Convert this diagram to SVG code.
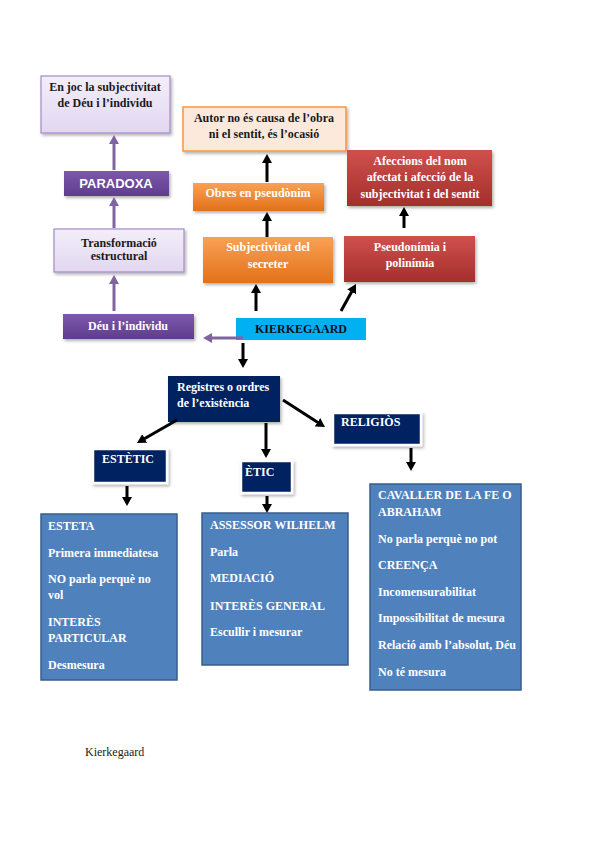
<svg xmlns="http://www.w3.org/2000/svg" width="599" height="848" viewBox="0 0 599 848">
<style>
.t{font-family:"Liberation Serif","Times New Roman",serif;font-size:12px;font-weight:bold;}
.w{fill:#ffffff;}
.k{fill:#1a1a1a;}
.c{text-anchor:middle;}
.blk{stroke:#000;stroke-width:3;fill:none;marker-end:url(#ab);}
.pur{stroke:#8064a2;stroke-width:3;fill:none;marker-end:url(#ap);}
.navy{fill:#002060;}
.nb{fill:#002060;stroke:#ffffff;stroke-width:2.5;}
.blue{fill:#4f81bd;stroke:#385d8a;stroke-width:1.5;}
</style>
<defs>
<marker id="ab" markerUnits="userSpaceOnUse" markerWidth="10" markerHeight="10" refX="1" refY="5" orient="auto" viewBox="0 0 10 10"><path d="M0,0 L9,5 L0,10 z" fill="#000"/></marker>
<marker id="ap" markerUnits="userSpaceOnUse" markerWidth="10" markerHeight="10" refX="1" refY="5" orient="auto" viewBox="0 0 10 10"><path d="M0,0 L9,5 L0,10 z" fill="#8064a2"/></marker>
<linearGradient id="gLav" x1="0" y1="0" x2="0" y2="1"><stop offset="0" stop-color="#f3eefa"/><stop offset="1" stop-color="#e2d7f0"/></linearGradient>
<linearGradient id="gPur" x1="0" y1="0" x2="0" y2="1"><stop offset="0" stop-color="#7d59ab"/><stop offset="1" stop-color="#5e3d8c"/></linearGradient>
<linearGradient id="gOr" x1="0" y1="0" x2="0" y2="1"><stop offset="0" stop-color="#f9a155"/><stop offset="1" stop-color="#e3711a"/></linearGradient>
<linearGradient id="gRed" x1="0" y1="0" x2="0" y2="1"><stop offset="0" stop-color="#d0504c"/><stop offset="1" stop-color="#a32f2c"/></linearGradient>
<filter id="sh" x="-10%" y="-10%" width="125%" height="130%"><feDropShadow dx="1.5" dy="2" stdDeviation="1.5" flood-color="#000" flood-opacity="0.3"/></filter>
</defs>

<g id="enjoc"><rect x="41" y="76" width="129" height="57" fill="url(#gLav)" stroke="#a48bc6" stroke-width="1.2" filter="url(#sh)"/><text class="t k c" x="105" y="91">En joc la subjectivitat</text><text class="t k c" x="105" y="107">de Déu i l’individu</text></g>
<g id="paradoxa"><rect x="64" y="171" width="105" height="25" fill="url(#gPur)" filter="url(#sh)"/><text x="116" y="188" text-anchor="middle" fill="#fff" font-family="'Liberation Sans',Arial,sans-serif" font-size="13" font-weight="bold">PARADOXA</text></g>
<g id="transformacio"><rect x="54" y="229" width="130" height="43" fill="url(#gLav)" stroke="#a48bc6" stroke-width="1.2" filter="url(#sh)"/><text class="t k c" x="119" y="247">Transformació</text><text class="t k c" x="119" y="260">estructural</text></g>
<g id="deu"><rect x="63" y="314" width="131" height="25" fill="url(#gPur)" filter="url(#sh)"/><text class="t w c" x="128" y="330">Déu i l’individu</text></g>
<g id="kierkegaard"><rect x="236" y="318" width="130" height="22" fill="#00b0f0"/><text class="t c" x="301" y="333" fill="#0a1020">KIERKEGAARD</text></g>

<g id="autor"><rect x="183" y="107" width="163" height="44" fill="#fde9dc" stroke="#f79646" stroke-width="1.5" filter="url(#sh)"/><text class="t k c" x="264" y="122">Autor no és causa de l’obra</text><text class="t k c" x="264" y="138">ni el sentit, és l’ocasió</text></g>
<g id="obres"><rect x="193" y="183" width="131" height="28" fill="url(#gOr)" filter="url(#sh)"/><text class="t w c" x="258" y="197">Obres en pseudònim</text></g>
<g id="subjectivitat"><rect x="203" y="237" width="130" height="46" fill="url(#gOr)" filter="url(#sh)"/><text class="t w c" x="268" y="251">Subjectivitat del</text><text class="t w c" x="268" y="268">secreter</text></g>
<g id="afeccions"><rect x="347" y="150" width="145" height="56" fill="url(#gRed)" filter="url(#sh)"/><text class="t w c" x="420" y="165">Afeccions del nom</text><text class="t w c" x="420" y="181">afectat i afecció de la</text><text class="t w c" x="420" y="198">subjectivitat i del sentit</text></g>
<g id="pseudonimia"><rect x="344" y="236" width="131" height="46" fill="url(#gRed)" filter="url(#sh)"/><text class="t w c" x="410" y="251">Pseudonímia i</text><text class="t w c" x="410" y="267">polinímia</text></g>

<g id="registres"><rect x="168" y="376" width="112" height="46" class="navy" filter="url(#sh)"/><text class="t w" x="177" y="391">Registres o ordres</text><text class="t w" x="177" y="407">de l’existència</text></g>
<g id="estetic"><rect x="93" y="449" width="74" height="34" class="nb" filter="url(#sh)"/><text class="t w" x="102" y="463">ESTÈTIC</text></g>
<g id="etic"><rect x="241" y="461" width="51" height="32" class="nb" filter="url(#sh)"/><text class="t w" x="245" y="476">ÈTIC</text></g>
<g id="religios"><rect x="333" y="413" width="88" height="32" class="nb" filter="url(#sh)"/><text class="t w" x="341" y="426">RELIGIÒS</text></g>

<g id="esteta"><rect x="41" y="514" width="136" height="166" class="blue"/>
<text class="t w" x="48" y="530">ESTETA</text>
<text class="t w" x="48" y="557">Primera immediatesa</text>
<text class="t w" x="48" y="583">NO parla perquè no</text>
<text class="t w" x="48" y="599">vol</text>
<text class="t w" x="48" y="626">INTERÈS</text>
<text class="t w" x="48" y="642">PARTICULAR</text>
<text class="t w" x="48" y="669">Desmesura</text></g>
<g id="assessor"><rect x="202" y="513" width="146" height="152" class="blue"/>
<text class="t w" x="210" y="529">ASSESSOR WILHELM</text>
<text class="t w" x="210" y="556">Parla</text>
<text class="t w" x="210" y="582">MEDIACIÓ</text>
<text class="t w" x="210" y="610">INTERÈS GENERAL</text>
<text class="t w" x="210" y="636">Escullir i mesurar</text></g>
<g id="cavaller"><rect x="370" y="484" width="151" height="206" class="blue"/>
<text class="t w" x="378" y="499">CAVALLER DE LA FE O</text>
<text class="t w" x="378" y="516">ABRAHAM</text>
<text class="t w" x="378" y="543">No parla perquè no pot</text>
<text class="t w" x="378" y="569">CREENÇA</text>
<text class="t w" x="378" y="596">Incomensurabilitat</text>
<text class="t w" x="378" y="622">Impossibilitat de mesura</text>
<text class="t w" x="378" y="649">Relació amb l’absolut, Déu</text>
<text class="t w" x="378" y="676">No té mesura</text></g>

<g id="connectors">
<path class="blk" d="M256,311 L256,292"/>
<path class="blk" d="M341,311 L352.1,291"/>
<path class="blk" d="M267,237 L267,220"/>
<path class="blk" d="M267,182 L267,162"/>
<path class="blk" d="M404,228 L404,215"/>
<path class="blk" d="M243,343 L243,360"/>
<path class="blk" d="M177,420 L143.9,439"/>
<path class="blk" d="M266,423 L266,450"/>
<path class="blk" d="M283,400 L318.3,422.7"/>
<path class="blk" d="M127,486 L127,498"/>
<path class="blk" d="M267,496 L267,505"/>
<path class="blk" d="M411,448 L411,463"/>
<path class="pur" d="M114,311 L114,283"/>
<path class="pur" d="M114,228 L114,205"/>
<path class="pur" d="M114,170 L114,143"/>
<path class="pur" d="M243,338 L211,338"/>
</g>

<text x="85" y="756" font-family="'Liberation Serif','Times New Roman',serif" font-size="12" fill="#222">Kierkegaard</text>
</svg>
